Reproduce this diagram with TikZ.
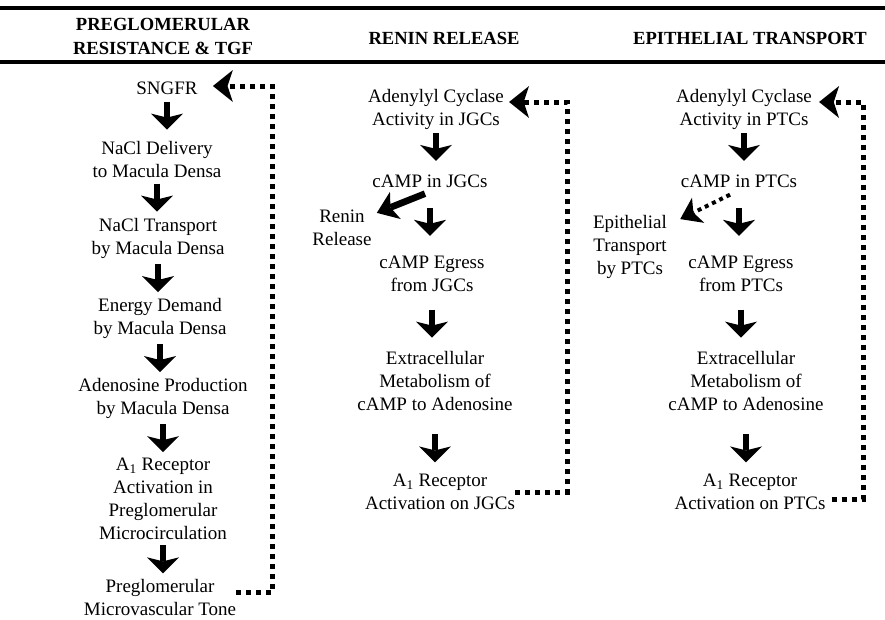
\documentclass[tikz,border=0pt]{standalone}
\usepackage{fontspec}
\setmainfont{Liberation Serif}
\usetikzlibrary{arrows.meta,calc}

\tikzset{
  stagetxt/.style={align=center,inner sep=0pt,font=\fontsize{14.25pt}{17.25pt}\selectfont},
  coltitle/.style={align=center,inner sep=0pt,font=\bfseries\fontsize{13.9pt}{18pt}\selectfont},
  downarr/.style={line width=5pt,-{Stealth[length=12pt,width=24pt,inset=3pt,line width=0pt]}},
  renarr/.style={line width=5pt,-{Stealth[length=15pt,width=22pt,inset=4pt,line width=0pt]}},
  fbdots/.style={line width=3.75pt,dash pattern=on 3.75pt off 3.75pt,-{Stealth[length=15pt,width=24pt,inset=4pt,line width=0pt]}},
  epidots/.style={line width=3pt,dash pattern=on 3pt off 3pt,-{Stealth[length=15pt,width=21pt,inset=4pt,line width=0pt]}}
}

\begin{document}
\begin{tikzpicture}[x=0.75pt,y=-0.75pt]
    \useasboundingbox (0,0) rectangle (885,619);
    % header
    \draw[line width=3pt] (0,8) -- (885,8);
    \draw[line width=3pt] (0,62) -- (885,62);
    \node[coltitle] (hdtgf) at (163,36) {PREGLOMERULAR\\RESISTANCE \& TGF};
    \node[coltitle] (hdrenin) at (444,38) {RENIN RELEASE};
    \node[coltitle] (hdepi) at (750,38) {EPITHELIAL TRANSPORT};
    % preglomerular resistance & TGF
    \node[stagetxt] (sngfr) at (167,88) {SNGFR};
    \node[stagetxt] (deliv) at (157,159) {NaCl Delivery\\to Macula Densa};
    \node[stagetxt] (mdtrans) at (158,238) {NaCl Transport\\by Macula Densa};
    \node[stagetxt] (energy) at (160,318) {Energy Demand\\by Macula Densa};
    \node[stagetxt] (adeno) at (163,398) {Adenosine Production\\by Macula Densa};
    \node[stagetxt] (arpg) at (163,499) {A\textsubscript{1} Receptor\\Activation in\\Preglomerular\\Microcirculation};
    \node[stagetxt] (tone) at (160,597) {Preglomerular\\Microvascular Tone};
    \draw[downarr] ($(sngfr.south)!.5!(sngfr.south |- deliv.north)+(0,-16)$) -- +(0,28);
    \draw[downarr] ($(deliv.south)!.5!(deliv.south |- mdtrans.north)+(0,-14)$) -- +(0,28);
    \draw[downarr] ($(mdtrans.south)!.5!(mdtrans.south |- energy.north)+(0,-14)$) -- +(0,28);
    \draw[downarr] ($(energy.south)!.5!(energy.south |- adeno.north)+(0,-14)$) -- +(0,28);
    \draw[downarr] ($(adeno.south)!.5!(adeno.south |- arpg.north)+(0,-14)$) -- +(0,28);
    \draw[downarr] ($(arpg.south)!.5!(arpg.south |- tone.north)+(0,-14)$) -- +(0,28);
    \draw[fbdots] ($(tone.east)+(0,-5)$) -| ($(sngfr.east)+(75,-2)$) -- ($(sngfr.east)+(15,-2)$);
    % renin release
    \node[stagetxt] (acjgc) at (436,109) {Adenylyl Cyclase\\Activity in JGCs};
    \node[stagetxt] (campjgc) at (430,181) {cAMP in JGCs};
    \node[stagetxt] (renin) at (342,228) {Renin\\Release};
    \node[stagetxt] (egjgc) at (432,274) {cAMP Egress\\from JGCs};
    \node[stagetxt] (metajgc) at (435,381) {Extracellular\\Metabolism of\\cAMP to Adenosine};
    \node[stagetxt] (arjgc) at (440,492) {A\textsubscript{1} Receptor\\Activation on JGCs};
    \draw[downarr] ($(acjgc.south)!.5!(acjgc.south |- campjgc.north)+(0,-19)$) -- +(0,28);
    \draw[downarr] ($(campjgc.south)!.5!(campjgc.south |- egjgc.north)+(0,-14)$) -- +(0,28);
    \draw[downarr] ($(egjgc.south)!.5!(egjgc.south |- metajgc.north)+(0,-12)$) -- +(0,28);
    \draw[downarr] ($(metajgc.south)!.5!(metajgc.south |- arjgc.north)+(0,-8)$) -- +(0,28);
    \draw[renarr] ($(campjgc.south)+(-5,6)$) -- ($(renin.north east)+(5,3)$);
    \draw[fbdots] (arjgc.east) -| ($(acjgc.east)+(63,-7)$) -- ($(acjgc.east)+(5,-7)$);
    % epithelial transport
    \node[stagetxt] (acptc) at (744,109) {Adenylyl Cyclase\\Activity in PTCs};
    \node[stagetxt] (campptc) at (739,181) {cAMP in PTCs};
    \node[stagetxt] (epi) at (630,247) {Epithelial\\Transport\\by PTCs};
    \node[stagetxt] (egptc) at (741,274) {cAMP Egress\\from PTCs};
    \node[stagetxt] (metaptc) at (746,381) {Extracellular\\Metabolism of\\cAMP to Adenosine};
    \node[stagetxt] (arptc) at (750,492) {A\textsubscript{1} Receptor\\Activation on PTCs};
    \draw[downarr] ($(acptc.south)!.5!(acptc.south |- campptc.north)+(0,-19)$) -- +(0,28);
    \draw[downarr] ($(campptc.south)!.5!(campptc.south |- egptc.north)+(0,-14)$) -- +(0,28);
    \draw[downarr] ($(egptc.south)!.5!(egptc.south |- metaptc.north)+(0,-12)$) -- +(0,28);
    \draw[downarr] ($(metaptc.south)!.5!(metaptc.south |- arptc.north)+(0,-8)$) -- +(0,28);
    \draw[epidots] ($(campptc.south)+(-9,7)$) -- ($(epi.north east)+(13,4)$);
    \draw[fbdots] ($(arptc.east)+(6,7)$) -| ($(acptc.east)+(51,-7)$) -- ($(acptc.east)+(7,-7)$);
\end{tikzpicture}
\end{document}
